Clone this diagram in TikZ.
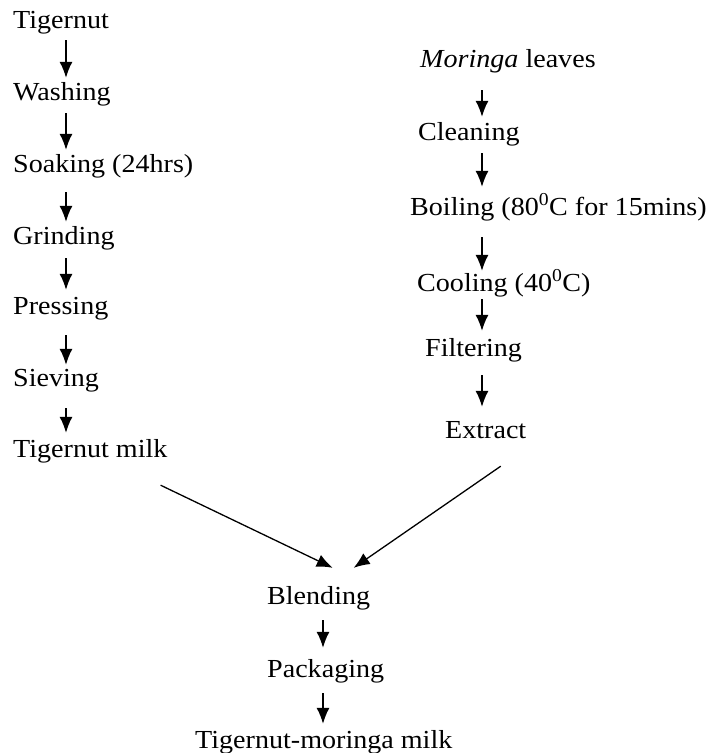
\documentclass[tikz,border=0pt]{standalone}
\usepackage{fontspec}
\setmainfont{Liberation Serif}[FakeStretch=1.08]
\usetikzlibrary{arrows.meta}

\begin{document}
\begin{tikzpicture}[
	x=1pt, y=-1pt,
	font=\fontsize{26}{30}\selectfont,
	stage/.style = {inner sep=0pt, text height=19pt, text depth=6pt, anchor=base west},
	arr/.style = {draw, line width=1.3pt, -{Latex[length=16pt,width=13pt]}},
	]
	\useasboundingbox (0,0) rectangle (710,753);
	\coordinate (colL) at (66,0);
	\coordinate (colR) at (482,0);
	\coordinate (colB) at (323,0);
	% tigernut column
	\node[stage] (tn)    at (13,28)  {Tigernut};
	\node[stage] (wash)  at (13,100) {Washing};
	\node[stage] (soak)  at (13,172) {Soaking (24hrs)};
	\node[stage] (grind) at (13,244) {Grinding};
	\node[stage] (press) at (13,314) {Pressing};
	\node[stage] (sieve) at (13,386) {Sieving};
	\node[stage] (milk)  at (13,457) {Tigernut milk};
	% moringa column
	\node[stage] (mor)   at (420,67)  {\textit{Moringa} leaves};
	\node[stage] (clean) at (418,140) {Cleaning};
	\node[stage] (boil)  at (410,215) {Boiling (80\textsuperscript{0}C for 15mins)};
	\node[stage] (cool)  at (417,291) {Cooling (40\textsuperscript{0}C)};
	\node[stage] (filt)  at (425,356) {Filtering};
	\node[stage] (extr)  at (445,438) {Extract};
	% blending
	\node[stage] (blend) at (267,604) {Blending};
	\node[stage] (pack)  at (267,677) {Packaging};
	\node[stage] (tmm)   at (195,748) {Tigernut-moringa milk};

	\foreach \a/\b/\s/\e in {tn/wash/6/3, wash/soak/7/3, soak/grind/14/3, grind/press/8/5,
		press/sieve/15/2, sieve/milk/16/5}
		\draw[arr, shorten <=\s pt, shorten >=\e pt] (\a.south -| colL) -- (\b.north -| colL);
	\foreach \a/\b/\s/\e in {mor/clean/17/4, clean/boil/7/9, boil/cool/16/1,
		cool/filt/2/6, filt/extr/13/12}
		\draw[arr, shorten <=\s pt, shorten >=\e pt] (\a.south -| colR) -- (\b.north -| colR);
	\foreach \a/\b/\s/\e in {blend/pack/10/10, pack/tmm/10/5}
		\draw[arr, shorten <=\s pt, shorten >=\e pt] (\a.south -| colB) -- (\b.north -| colB);

	\draw[arr] ([shift={(-7,22)}]milk.south east) -- ([shift={(14,-17)}]blend.north);
	\draw[arr] ([shift={(15,22)}]extr.south) -- ([shift={(35,-17)}]blend.north);
\end{tikzpicture}
\end{document}
